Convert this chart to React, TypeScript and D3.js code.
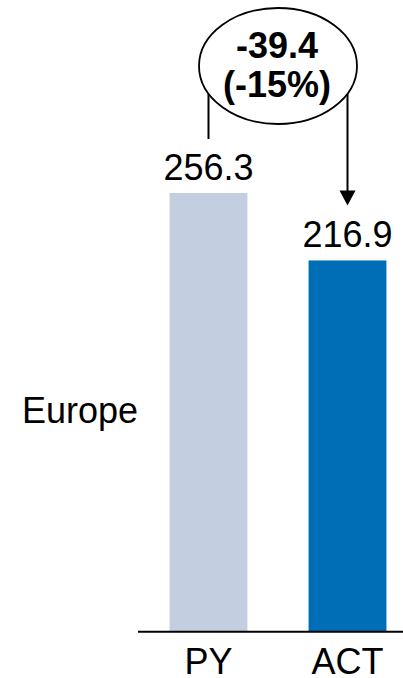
import React from "react";
import * as d3 from "d3";

const categories = ["PY", "ACT"];
const values = [256.3, 216.9];
const valueLabels = ["256.3", "216.9"];
const barColors = ["#C3CEE0", "#006EB7"];
const rowLabel = "Europe";
const deltaLines = ["-39.4", "(-15%)"];

const W = 403;
const H = 678;
const FONT = "Liberation Sans, Arial, sans-serif";

export default function App() {
  const x = d3
    .scaleBand<string>()
    .domain(categories)
    .range([139, 417])
    .paddingInner(0.44)
    .paddingOuter(0.22);
  const y = d3.scaleLinear().domain([0, values[0]]).range([631.7, 193]);

  const cx = (c: string) => (x(c) as number) + x.bandwidth() / 2;

  const ex = 278;
  const ey = 66;
  const rx = 79;
  const ry = 58;
  const ellipseY = (px: number) =>
    ey + ry * Math.sqrt(Math.max(0, 1 - ((px - ex) / rx) ** 2));

  const x0 = cx(categories[0]);
  const x1 = cx(categories[1]);
  const tipY = y(values[1]) - 55;

  return (
    <svg
      width={W}
      height={H}
      style={{ position: "absolute", left: 0, top: 0, background: "#fff" }}
    >
      {categories.map((c, i) => (
        <g key={c}>
          <rect
            x={x(c)}
            y={y(values[i])}
            width={x.bandwidth()}
            height={y(0) - y(values[i])}
            fill={barColors[i]}
          />
          <text
            x={cx(c)}
            y={y(values[i]) - 13}
            textAnchor="middle"
            fontFamily={FONT}
            fontSize={36}
            fill="#000"
          >
            {valueLabels[i]}
          </text>
          <text
            x={cx(c)}
            y={674}
            textAnchor="middle"
            fontFamily={FONT}
            fontSize={36}
            fill="#000"
          >
            {c}
          </text>
        </g>
      ))}
      <line x1={138} x2={403} y1={y(0)} y2={y(0)} stroke="#000" strokeWidth={2} />
      <text x={22} y={423} fontFamily={FONT} fontSize={36} fill="#000">
        {rowLabel}
      </text>
      {/* connectors */}
      <line
        x1={x0}
        x2={x0}
        y1={ellipseY(x0)}
        y2={y(values[0]) - 54}
        stroke="#000"
        strokeWidth={2}
      />
      <line
        x1={x1}
        x2={x1}
        y1={ellipseY(x1)}
        y2={tipY - 14}
        stroke="#000"
        strokeWidth={2}
      />
      <path
        d={`M${x1 - 8},${tipY - 15} L${x1 + 8},${tipY - 15} L${x1},${tipY} Z`}
        fill="#000"
      />
      <ellipse cx={ex} cy={ey} rx={rx} ry={ry} fill="#fff" stroke="#000" strokeWidth={1.8} />
      <text
        x={ex - 1}
        y={58}
        textAnchor="middle"
        fontFamily={FONT}
        fontSize={36}
        fontWeight="bold"
        fill="#000"
      >
        {deltaLines[0]}
      </text>
      <text
        x={ex - 1}
        y={97}
        textAnchor="middle"
        fontFamily={FONT}
        fontSize={36}
        fontWeight="bold"
        fill="#000"
      >
        {deltaLines[1]}
      </text>
    </svg>
  );
}
